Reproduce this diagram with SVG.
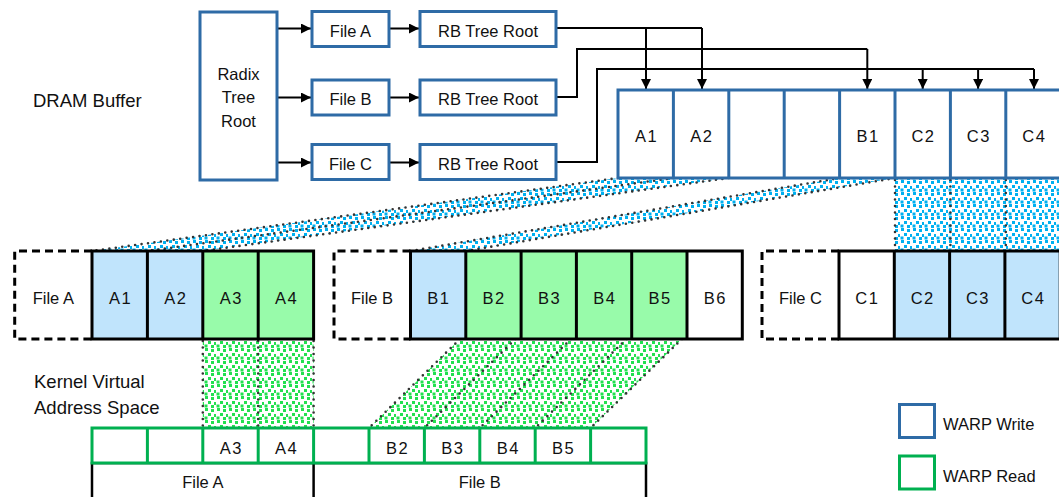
<svg xmlns="http://www.w3.org/2000/svg" width="1059" height="497" viewBox="0 0 1059 497">
<style>
text{font-family:"Liberation Sans",Arial,sans-serif;fill:#111;}
.t{font-size:16.5px;text-anchor:middle;}
.c{font-size:16.5px;text-anchor:middle;letter-spacing:1.5px;}
.lbl{font-size:18.5px;}
.bx{fill:#fff;stroke:#2E6BA6;stroke-width:3;}
.dram{fill:#fff;stroke:#2E6BA6;stroke-width:3;}
.conn{fill:none;stroke:#000;stroke-width:2;}
.dot{fill:none;stroke:#333;stroke-width:2.6;stroke-dasharray:0 6.5;stroke-linecap:round;}
.mid{stroke:#000;stroke-width:3;}
.dash{fill:none;stroke:#000;stroke-width:3;stroke-dasharray:8 5;}
.blue{fill:#C0E4FC;}
.green{fill:#98FBAA;}
.kv{fill:#fff;stroke:#00B050;stroke-width:3;}
</style>
<defs>
<marker id="ah" viewBox="0 0 10 10" refX="10" refY="5" markerWidth="5" markerHeight="5" orient="auto" markerUnits="strokeWidth">
<path d="M0,0 L10,5 L0,10 z" fill="#000"/>
</marker>
<pattern id="pb" width="12" height="12" patternUnits="userSpaceOnUse">
<rect width="12" height="12" fill="#fff"/>
<g fill="#00B0F0">
<rect x="1" y="0" width="3" height="3"/><rect x="7" y="1" width="3" height="3"/>
<rect x="4" y="5" width="3" height="3"/><rect x="10" y="6" width="2" height="3"/>
<rect x="0.5" y="8.5" width="3" height="3"/><rect x="7" y="9" width="3" height="3"/>
</g>
</pattern>
<pattern id="pg" width="12" height="12" patternUnits="userSpaceOnUse">
<rect width="12" height="12" fill="#fff"/>
<g fill="#22E050">
<rect x="1" y="0" width="3" height="3"/><rect x="7" y="1" width="3" height="3"/>
<rect x="4" y="5" width="3" height="3"/><rect x="10" y="6" width="2" height="3"/>
<rect x="0.5" y="8.5" width="3" height="3"/><rect x="7" y="9" width="3" height="3"/>
</g>
</pattern>
</defs>

<!-- labels -->
<text class="lbl" x="33" y="107">DRAM Buffer</text>
<text class="lbl" x="34" y="388">Kernel Virtual</text>
<text class="lbl" x="34" y="414">Address Space</text>

<!-- mapping bands -->
<g id="mappings">
<polygon points="618,178 728.8,178 202.8,251 92,251" fill="url(#pb)"/>
<line class="dot" x1="618" y1="178" x2="92" y2="251"/>
<line class="dot" x1="673.4" y1="178" x2="147.4" y2="251"/>
<line class="dot" x1="728.8" y1="178" x2="202.8" y2="251"/>
<polygon points="839.6,178 895,178 465.8,251 410.5,251" fill="url(#pb)"/>
<line class="dot" x1="839.6" y1="178" x2="410.5" y2="251"/>
<line class="dot" x1="895" y1="178" x2="465.8" y2="251"/>
<rect x="895" y="178" width="170" height="73" fill="url(#pb)"/>
<line class="dot" x1="895" y1="180" x2="895" y2="251"/>
<line class="dot" x1="950.4" y1="180" x2="950.4" y2="251"/>
<line class="dot" x1="1005.8" y1="180" x2="1005.8" y2="251"/>
<rect x="202.8" y="339" width="110.8" height="89" fill="url(#pg)"/>
<line class="dot" x1="202.8" y1="341" x2="202.8" y2="428"/>
<line class="dot" x1="258.2" y1="341" x2="258.2" y2="428"/>
<line class="dot" x1="313.6" y1="341" x2="313.6" y2="428"/>
<polygon points="460,339 682,339 590.6,428 369,428" fill="url(#pg)"/>
<line class="dot" x1="460" y1="339" x2="369" y2="428"/>
<line class="dot" x1="515.5" y1="339" x2="424.4" y2="428"/>
<line class="dot" x1="571" y1="339" x2="479.8" y2="428"/>
<line class="dot" x1="626.5" y1="339" x2="535.2" y2="428"/>
<line class="dot" x1="682" y1="339" x2="590.6" y2="428"/>
</g>

<!-- connectors -->
<g id="connectors">
<line class="conn" x1="277" y1="28.5" x2="311" y2="28.5" marker-end="url(#ah)"/>
<line class="conn" x1="277" y1="97.5" x2="311" y2="97.5" marker-end="url(#ah)"/>
<line class="conn" x1="277" y1="162.5" x2="311" y2="162.5" marker-end="url(#ah)"/>
<line class="conn" x1="389" y1="28.5" x2="419" y2="28.5" marker-end="url(#ah)"/>
<line class="conn" x1="389" y1="97.5" x2="419" y2="97.5" marker-end="url(#ah)"/>
<line class="conn" x1="389" y1="162.5" x2="419" y2="162.5" marker-end="url(#ah)"/>
<polyline class="conn" points="556,28 702,28"/>
<line class="conn" x1="646" y1="28" x2="646" y2="89" marker-end="url(#ah)"/>
<line class="conn" x1="702" y1="28" x2="702" y2="89" marker-end="url(#ah)"/>
<polyline class="conn" points="556,97 577,97 577,49 867.3,49" />
<line class="conn" x1="867.3" y1="49" x2="867.3" y2="89" marker-end="url(#ah)"/>
<polyline class="conn" points="556,162 597,162 597,69 1034,69"/>
<line class="conn" x1="922.7" y1="69" x2="922.7" y2="89" marker-end="url(#ah)"/>
<line class="conn" x1="978.1" y1="69" x2="978.1" y2="89" marker-end="url(#ah)"/>
<line class="conn" x1="1034" y1="69" x2="1034" y2="89" marker-end="url(#ah)"/>
</g>

<!-- top tree -->
<g id="radix"><rect class="bx" x="200" y="12" width="77" height="168"/>
<text class="t" x="238.5" y="80">Radix</text><text class="t" x="238.5" y="103.3">Tree</text><text class="t" x="238.5" y="126.7">Root</text></g>
<g id="fileA"><rect class="bx" x="312" y="11.5" width="77" height="35"/><text class="t" x="350.5" y="36.5">File A</text></g>
<g id="fileB"><rect class="bx" x="312" y="80" width="77" height="35"/><text class="t" x="350.5" y="105">File B</text></g>
<g id="fileC"><rect class="bx" x="312" y="144.5" width="77" height="35"/><text class="t" x="350.5" y="169.5">File C</text></g>
<g id="rbA"><rect class="bx" x="420" y="11.5" width="136" height="35"/><text class="t" x="488" y="36.5">RB Tree Root</text></g>
<g id="rbB"><rect class="bx" x="420" y="80" width="136" height="35"/><text class="t" x="488" y="105">RB Tree Root</text></g>
<g id="rbC"><rect class="bx" x="420" y="144.5" width="136" height="35"/><text class="t" x="488" y="169.5">RB Tree Root</text></g>

<!-- DRAM buffer -->
<g id="dram">
<rect class="dram" x="618" y="90" width="443.2" height="88"/>
<g stroke="#2E6BA6" stroke-width="3">
<line x1="673.4" y1="90" x2="673.4" y2="178"/><line x1="728.8" y1="90" x2="728.8" y2="178"/>
<line x1="784.2" y1="90" x2="784.2" y2="178"/><line x1="839.6" y1="90" x2="839.6" y2="178"/>
<line x1="895" y1="90" x2="895" y2="178"/><line x1="950.4" y1="90" x2="950.4" y2="178"/>
<line x1="1005.8" y1="90" x2="1005.8" y2="178"/>
</g>
<text class="c" x="646.5" y="142">A1</text><text class="c" x="701.9" y="142">A2</text>
<text class="c" x="868" y="142">B1</text><text class="c" x="923.5" y="142">C2</text>
<text class="c" x="978.9" y="142">C3</text><text class="c" x="1034.3" y="142">C4</text>
</g>

<!-- middle row: file A -->
<g id="midA">
<path class="dash" d="M92,251 H14.7 V339 H92"/>
<rect class="blue" x="92" y="251" width="110.8" height="88"/>
<rect class="green" x="202.8" y="251" width="110.8" height="88"/>
<g class="mid" fill="none"><rect x="92" y="251" width="221.6" height="88"/>
<line x1="147.4" y1="251" x2="147.4" y2="339"/><line x1="202.8" y1="251" x2="202.8" y2="339"/><line x1="258.2" y1="251" x2="258.2" y2="339"/></g>
<text class="t" x="53.3" y="304">File A</text>
<text class="c" x="120.5" y="304">A1</text><text class="c" x="175.9" y="304">A2</text>
<text class="c" x="231.3" y="304">A3</text><text class="c" x="286.7" y="304">A4</text>
</g>
<!-- middle row: file B -->
<g id="midB">
<path class="dash" d="M410.5,251 H334 V339 H410.5"/>
<rect class="blue" x="410.5" y="251" width="55.3" height="88"/>
<rect class="green" x="465.8" y="251" width="221.2" height="88"/>
<rect fill="#fff" x="687" y="251" width="55.3" height="88"/>
<g class="mid" fill="none"><rect x="410.5" y="251" width="331.8" height="88"/>
<line x1="465.8" y1="251" x2="465.8" y2="339"/><line x1="521.1" y1="251" x2="521.1" y2="339"/>
<line x1="576.4" y1="251" x2="576.4" y2="339"/><line x1="631.7" y1="251" x2="631.7" y2="339"/>
<line x1="687" y1="251" x2="687" y2="339"/></g>
<text class="t" x="372" y="304">File B</text>
<text class="c" x="438.9" y="304">B1</text><text class="c" x="494.2" y="304">B2</text>
<text class="c" x="549.5" y="304">B3</text><text class="c" x="604.8" y="304">B4</text>
<text class="c" x="660.1" y="304">B5</text><text class="c" x="715.4" y="304">B6</text>
</g>
<!-- middle row: file C -->
<g id="midC">
<path class="dash" d="M839,251 H762 V339 H839"/>
<rect fill="#fff" x="839" y="251" width="55.3" height="88"/>
<rect class="blue" x="894.3" y="251" width="170" height="88"/>
<g class="mid" fill="none"><rect x="839" y="251" width="221.2" height="88"/>
<line x1="894.3" y1="251" x2="894.3" y2="339"/><line x1="949.6" y1="251" x2="949.6" y2="339"/>
<line x1="1004.9" y1="251" x2="1004.9" y2="339"/></g>
<text class="t" x="800.5" y="304">File C</text>
<text class="c" x="867.4" y="304">C1</text><text class="c" x="922.7" y="304">C2</text>
<text class="c" x="978" y="304">C3</text><text class="c" x="1033.3" y="304">C4</text>
</g>

<!-- kernel virtual address space -->
<g id="kernel">
<rect x="92" y="463" width="554" height="44" fill="#fff" stroke="#000" stroke-width="2.5"/>
<line x1="313.6" y1="463" x2="313.6" y2="497" stroke="#000" stroke-width="2.5"/>
<rect class="kv" x="92" y="428" width="554" height="35"/>
<g stroke="#00B050" stroke-width="3">
<line x1="147.4" y1="428" x2="147.4" y2="463"/><line x1="202.8" y1="428" x2="202.8" y2="463"/>
<line x1="258.2" y1="428" x2="258.2" y2="463"/><line x1="313.6" y1="428" x2="313.6" y2="463"/>
<line x1="369" y1="428" x2="369" y2="463"/><line x1="424.4" y1="428" x2="424.4" y2="463"/>
<line x1="479.8" y1="428" x2="479.8" y2="463"/><line x1="535.2" y1="428" x2="535.2" y2="463"/>
<line x1="590.6" y1="428" x2="590.6" y2="463"/>
</g>
<text class="c" x="231.3" y="454">A3</text><text class="c" x="286.7" y="454">A4</text>
<text class="c" x="397.5" y="454">B2</text><text class="c" x="452.9" y="454">B3</text>
<text class="c" x="508.3" y="454">B4</text><text class="c" x="563.7" y="454">B5</text>
<text class="t" x="202.8" y="488">File A</text>
<text class="t" x="479.8" y="488">File B</text>
</g>

<!-- legend -->
<g id="legend">
<rect x="899.5" y="404.5" width="35" height="33" fill="#fff" stroke="#2E6BA6" stroke-width="3"/>
<text class="t" style="text-anchor:start" x="943" y="430">WARP Write</text>
<rect x="899.5" y="456" width="35" height="33" fill="#fff" stroke="#00B050" stroke-width="3"/>
<text class="t" style="text-anchor:start" x="943" y="481.5">WARP Read</text>
</g>
</svg>
